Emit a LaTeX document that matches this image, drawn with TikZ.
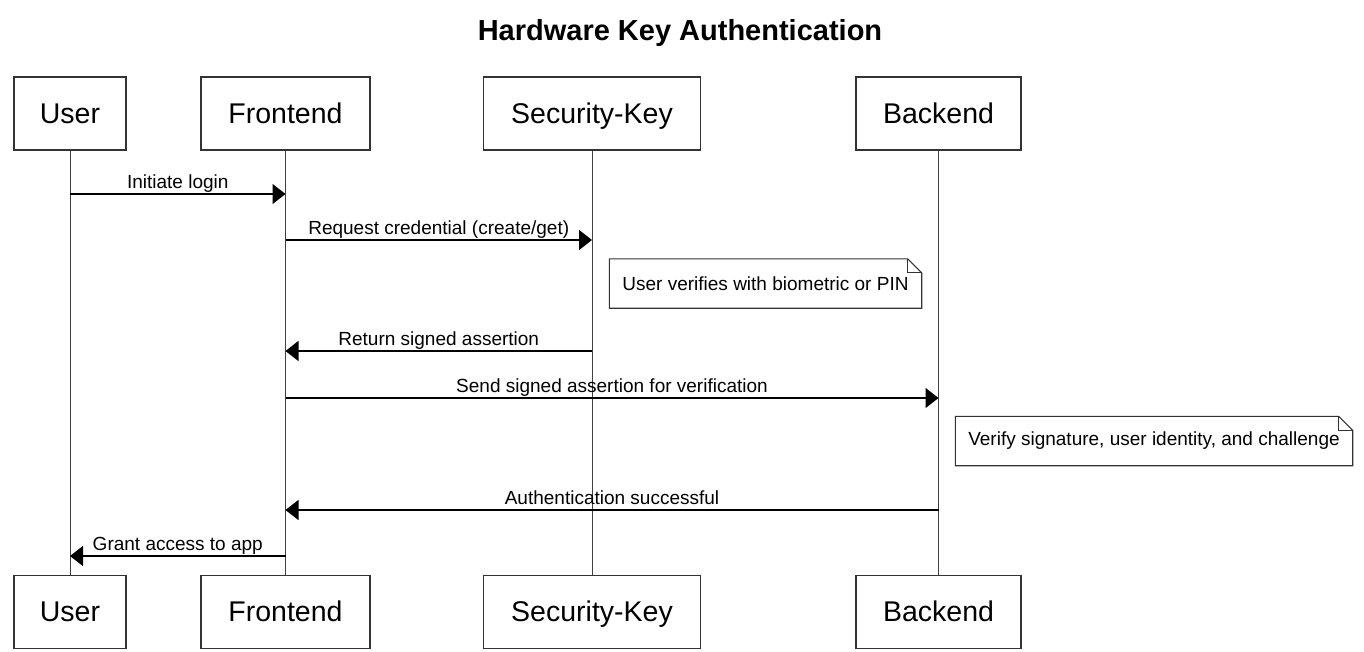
\documentclass[tikz,border=0pt]{standalone}
\usepackage{fontspec}
\setmainfont{Liberation Sans}
\usetikzlibrary{arrows.meta,positioning}

\newcommand{\dognote}[1]{%
  \draw[noteline] (#1.north west) -- ([xshift=-14pt]#1.north east) -- ([yshift=-14pt]#1.north east)
    -- (#1.south east) -- (#1.south west) -- cycle;
  \draw[noteline] ([xshift=-14pt]#1.north east) |- ([yshift=-14pt]#1.north east);}

\begin{document}
\begin{tikzpicture}[
    x=1pt, y=-1pt,
    font=\fontsize{19}{22}\selectfont,
    >={Triangle[length=13pt, width=20pt]},
    actor/.style={draw=black!80, line width=1.2pt, fill=white, minimum height=73pt, inner sep=0pt,
                  text height=20pt, text depth=0pt, font=\fontsize{28.5}{34}\selectfont},
    life/.style={black!75, line width=1pt},
    msg/.style={black, line width=1.3pt, ->},
    lbl/.style={midway, above, inner sep=1pt, text height=13pt, text depth=4pt},
    note/.style={fill=white, inner sep=0pt, minimum height=49pt},
    noteline/.style={black!80, line width=1.1pt}
]
\useasboundingbox (0,0) rectangle (1364,651);

\node[font=\bfseries\fontsize{29}{34}\selectfont] (title) at (680,33) {Hardware Key Authentication};

% participants
\node[actor, minimum width=112pt] (user) at (70,113.5) {User};
\node[actor, minimum width=169pt] (front) at (285.5,113.5) {Frontend};
\node[actor, minimum width=217pt] (key) at (592,113.5) {Security-Key};
\node[actor, minimum width=165pt] (back) at (938.5,113.5) {Backend};

\node[actor, minimum width=112pt, below=424pt of user] (user2) {User};
\node[actor, minimum width=169pt, below=424pt of front] (front2) {Frontend};
\node[actor, minimum width=217pt, below=424pt of key] (key2) {Security-Key};
\node[actor, minimum width=165pt, below=424pt of back] (back2) {Backend};

% lifelines
\draw[life] (user) -- (user2);
\draw[life] (front) -- (front2);
\draw[life] (key) -- (key2);
\draw[life] (back) -- (back2);

% notes
\node[note, minimum width=312pt] (verify) at (765.5,283.5) {User verifies with biometric or PIN};
\dognote{verify}
\node[note, minimum width=397pt] (check) at (1154,441) {Verify signature, user identity, and challenge};
\dognote{check}

% messages
\draw[msg] (user |- 0,194) -- (front |- 0,194) node[lbl] {Initiate login};
\draw[msg] (front |- 0,240) -- (key |- 0,240) node[lbl] {Request credential (create/get)};
\draw[msg] (key |- 0,351) -- (front |- 0,351) node[lbl] {Return signed assertion};
\draw[msg] (front |- 0,398) -- (back |- 0,398) node[lbl] {Send signed assertion for verification};
\draw[msg] (back |- 0,510) -- (front |- 0,510) node[lbl] {Authentication successful};
\draw[msg] (front |- 0,556) -- (user |- 0,556) node[lbl] {Grant access to app};
\end{tikzpicture}
\end{document}
